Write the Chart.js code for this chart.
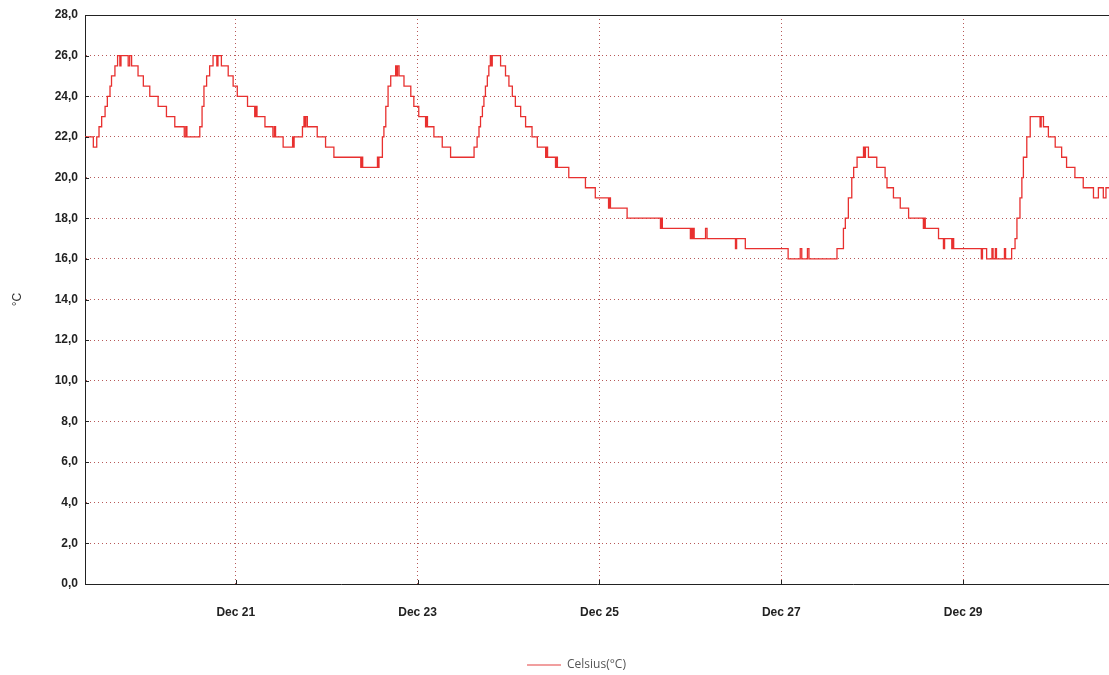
<!DOCTYPE html>
<html>
<head>
<meta charset="utf-8">
<title>Celsius</title>
<script src="https://cdn.jsdelivr.net/npm/chart.js@4.4.1/dist/chart.umd.min.js"></script>
<style>
  html, body { margin: 0; padding: 0; background: #fff; }
  #wrap { width: 1109px; height: 675px; }
</style>
</head>
<body>
<div id="wrap"><canvas id="tempChart"></canvas></div>
<script>
// hours counted from Dec 19 00:00, readings in 0.5 degree steps
const hours = [
  8.2, 10.4, 11.3, 11.9, 12.6, 13.5, 14.1, 14.8, 15.2, 16.1, 16.8, 17.4, 17.7, 19.6, 20.0, 20.5,
  22.2, 23.6, 25.3, 27.5, 29.7, 31.9, 34.4, 34.8, 35.1, 38.5, 39.1, 39.6, 40.3, 41.1, 42.0, 43.0,
  43.3, 44.2, 46.0, 47.3, 48.4, 51.1, 53.0, 53.3, 53.6, 55.7, 57.8, 58.2, 58.5, 60.5, 63.0, 63.2,
  63.4, 65.6, 66.0, 66.3, 66.5, 66.9, 69.5, 71.7, 73.9, 81.0, 81.3, 81.5, 85.4, 85.6, 85.8, 86.7,
  87.1, 87.6, 88.2, 88.9, 90.2, 90.5, 90.7, 91.1, 92.4, 94.2, 95.0, 96.3, 98.1, 98.4, 98.6, 100.3,
  102.5, 104.7, 110.9, 111.7, 112.2, 112.6, 113.1, 113.5, 113.9, 114.4, 114.8, 115.2, 115.5, 115.7,
  117.9, 119.2, 120.1, 121.0, 121.8, 123.2, 124.5, 126.2, 127.6, 129.8, 130.1, 130.3, 132.4, 132.6,
  132.9, 135.9, 140.3, 142.9, 146.4, 146.6, 146.9, 151.3, 160.1, 160.3, 160.6, 168.0, 168.2, 168.5,
  168.7, 169.0, 172.0, 172.4, 179.9, 180.2, 182.5, 193.8, 197.0, 197.4, 198.9, 199.3, 206.7, 208.4,
  208.9, 209.7, 210.6, 211.1, 212.0, 213.7, 214.0, 214.2, 215.0, 217.2, 219.4, 219.9, 221.6, 223.4,
  225.6, 229.5, 229.8, 230.0, 233.5, 234.8, 235.1, 237.0, 237.3, 237.5, 244.8, 245.1, 246.2, 247.6,
  247.9, 248.5, 248.8, 250.9, 251.2, 252.8, 253.7, 254.2, 255.0, 255.5, 255.9, 256.8, 257.7, 260.3,
  260.6, 261.2, 262.5, 264.3, 266.0, 267.3, 269.5, 271.7, 274.4, 275.7, 277.0, 277.7, 278.5
];
const celsius = [
  22.0, 21.5, 22.0, 22.5, 23.0, 23.5, 24.0, 24.5, 25.0, 25.5, 26.0, 25.5, 26.0, 25.5, 26.0, 25.5,
  25.0, 24.5, 24.0, 23.5, 23.0, 22.5, 22.0, 22.5, 22.0, 22.5, 23.5, 24.5, 25.0, 25.5, 26.0, 25.5,
  26.0, 25.5, 25.0, 24.5, 24.0, 23.5, 23.0, 23.5, 23.0, 22.5, 22.0, 22.5, 22.0, 21.5, 22.0, 21.5,
  22.0, 22.5, 23.0, 22.5, 23.0, 22.5, 22.0, 21.5, 21.0, 20.5, 21.0, 20.5, 21.0, 20.5, 21.0, 22.0,
  22.5, 23.5, 24.5, 25.0, 25.5, 25.0, 25.5, 25.0, 24.5, 24.0, 23.5, 23.0, 22.5, 23.0, 22.5, 22.0,
  21.5, 21.0, 21.5, 22.0, 22.5, 23.0, 23.5, 24.0, 24.5, 25.0, 25.5, 26.0, 25.5, 26.0,
  25.5, 25.0, 24.5, 24.0, 23.5, 23.0, 22.5, 22.0, 21.5, 21.0, 21.5, 21.0, 20.5, 21.0,
  20.5, 20.0, 19.5, 19.0, 18.5, 19.0, 18.5, 18.0, 17.5, 18.0, 17.5, 17.0, 17.5, 17.0,
  17.5, 17.0, 17.5, 17.0, 16.5, 17.0, 16.5, 16.0, 16.5, 16.0, 16.5, 16.0, 16.5, 17.5,
  18.0, 19.0, 20.0, 20.5, 21.0, 21.5, 21.0, 21.5, 21.0, 20.5, 20.0, 19.5, 19.0, 18.5,
  18.0, 17.5, 18.0, 17.5, 17.0, 16.5, 17.0, 16.5, 17.0, 16.5, 16.0, 16.5, 16.0, 16.5,
  16.0, 16.5, 16.0, 16.5, 16.0, 16.5, 17.0, 18.0, 19.0, 20.0, 21.0, 22.0, 23.0, 22.5,
  23.0, 22.5, 22.0, 21.5, 21.0, 20.5, 20.0, 19.5, 19.0, 19.5, 19.0, 19.5, 19.5
];
const tickHours = [48, 96, 144, 192, 240];
const tickLabels = ['Dec 21', 'Dec 23', 'Dec 25', 'Dec 27', 'Dec 29'];
const yTicks = [0, 2, 4, 6, 8, 10, 12, 14, 16, 18, 20, 22, 24, 26, 28];

// top frame line + short inner tick marks like the original
const frame = {
  id: 'frame',
  afterLayout(chart) {
    // legend in the original sits a bit right of the canvas centre
    chart.legend.left += 22;
    chart.legend.right += 22;
  },
  afterDraw(chart) {
    const { ctx, chartArea } = chart;
    const y = chart.scales.y, x = chart.scales.x;
    ctx.save();
    ctx.strokeStyle = '#222';
    ctx.lineWidth = 1;
    ctx.beginPath();
    ctx.moveTo(chartArea.left, chartArea.top + 0.5);
    ctx.lineTo(chartArea.right, chartArea.top + 0.5);
    yTicks.forEach(v => {
      const py = Math.round(y.getPixelForValue(v)) + 0.5;
      ctx.moveTo(chartArea.left, py);
      ctx.lineTo(chartArea.left + 4, py);
    });
    tickHours.forEach(v => {
      const px = Math.round(x.getPixelForValue(v)) + 0.5;
      ctx.moveTo(px, chartArea.bottom);
      ctx.lineTo(px, chartArea.bottom - 4);
    });
    ctx.stroke();
    ctx.restore();
  }
};

const ctx = document.getElementById('tempChart').getContext('2d');
new Chart(ctx, {
  type: 'line',
  data: {
    datasets: [{
      label: 'Celsius(°C)',
      data: hours.map((h, i) => ({ x: h, y: celsius[i] })),
      borderColor: '#e8302f',
      backgroundColor: '#e8302f',
      borderWidth: 1.3,
      pointRadius: 0,
      stepped: true,
      fill: false
    }]
  },
  options: {
    responsive: true,
    maintainAspectRatio: false,
    animation: false,
    layout: { padding: { top: 15, right: 0, left: 0, bottom: -6 } },
    scales: {
      x: {
        type: 'linear',
        min: 8.2,
        max: 278.5,
        afterBuildTicks: axis => { axis.ticks = tickHours.map(v => ({ value: v })); },
        afterFit: axis => { axis.height = 71; },
        ticks: {
          callback: v => tickLabels[tickHours.indexOf(v)],
          color: '#222',
          padding: 21,
          maxRotation: 0,
          font: { family: 'Liberation Sans', size: 12, weight: 'bold' }
        },
        grid: { color: 'rgba(170, 60, 60, 0.85)', drawTicks: false, lineWidth: 1 },
        border: { color: '#222', width: 1, dash: [1, 3] }
      },
      y: {
        min: 0,
        max: 28,
        afterBuildTicks: axis => { axis.ticks = yTicks.map(v => ({ value: v })); },
        afterFit: axis => { axis.width = 85; },
        ticks: {
          callback: v => v.toFixed(1).replace('.', ','),
          color: '#222',
          padding: 7,
          font: { family: 'Liberation Sans', size: 12, weight: 'bold' }
        },
        grid: { color: 'rgba(170, 60, 60, 0.85)', drawTicks: false, lineWidth: 1 },
        border: { color: '#222', width: 1, dash: [1, 3] },
        title: {
          display: true,
          text: '°C',
          color: '#333',
          padding: { top: 10, bottom: 0 },
          font: { family: 'Liberation Sans', size: 12 }
        }
      }
    },
    plugins: {
      legend: {
        display: true,
        position: 'bottom',
        labels: {
          usePointStyle: true,
          pointStyle: 'line',
          pointStyleWidth: 34,
          color: '#555',
          padding: 4,
          font: { family: 'Open Sans', size: 12 },
          generateLabels: chart =>
            Chart.defaults.plugins.legend.labels.generateLabels(chart)
              .map(l => Object.assign(l, { strokeStyle: '#ec7f7f', lineWidth: 1.5 }))
        }
      },
      tooltip: { enabled: false },
      title: { display: false }
    }
  },
  plugins: [frame]
});
</script>
</body>
</html>
